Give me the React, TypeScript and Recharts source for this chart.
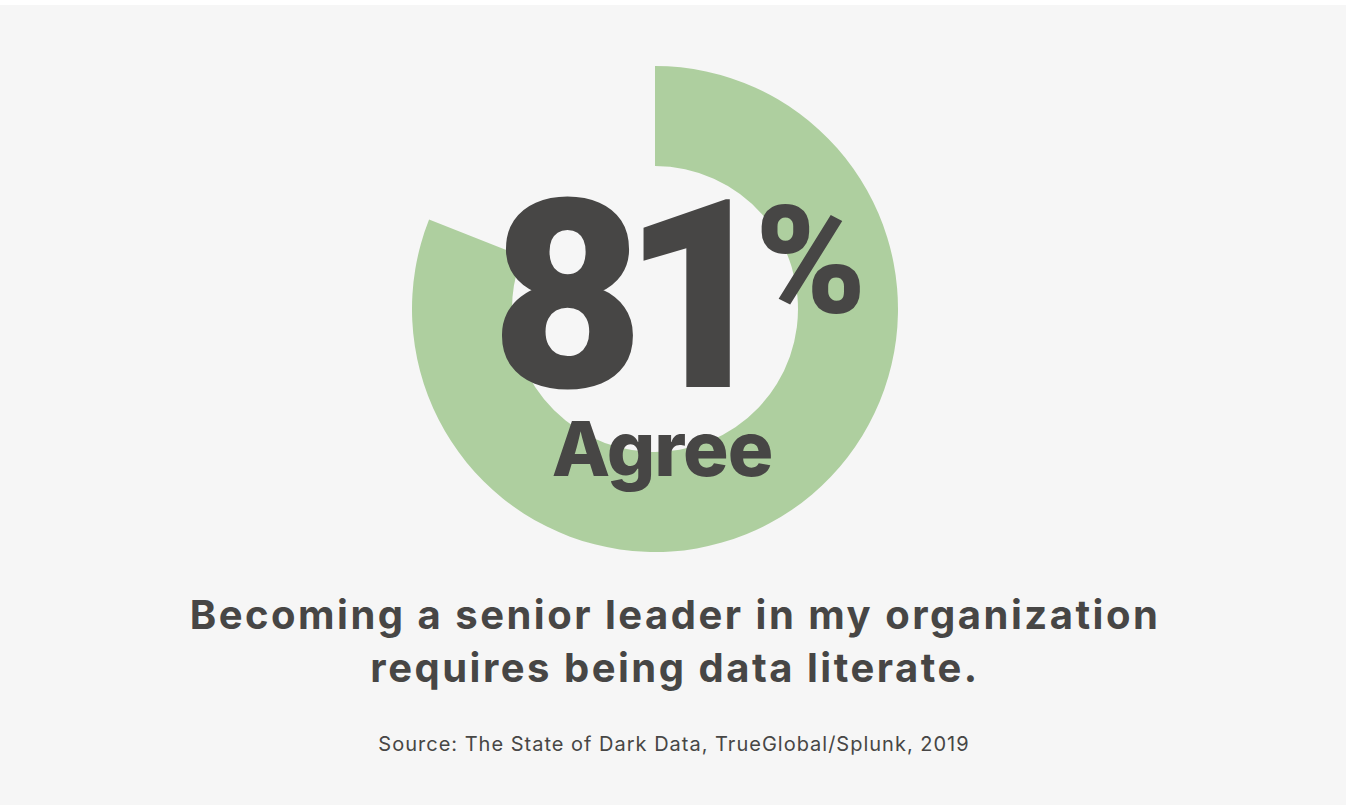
import { PieChart, Pie, Cell } from 'recharts'

const segments = ['Agree', 'Other']
const shares = [81, 19]
const headlineDigits = ['8', '1']
const headlineUnit = '%'
const caption = 'Agree'
const titleLines = [
   'Becoming a senior leader in my organization',
   'requires being data literate.',
]
const source = 'Source: The State of Dark Data, TrueGlobal/Splunk, 2019'

const GREEN = '#aecf9f'
const INK = '#474645'
const BG = '#f6f6f6'

const W = 1346
const H = 805
const FONT = 'Inter, "Open Sans", sans-serif'
const NUM_FONT = 'Roboto, Inter, sans-serif'

export default function App() {
   const data = segments.map((name, i) => ({ name, value: shares[i] }))

   return (
      <div
         style={{
            position: 'absolute',
            left: 0,
            top: 0,
            width: W,
            height: H,
            background: '#ffffff',
            overflow: 'hidden',
         }}
      >
         <div
            style={{
               position: 'absolute',
               left: 0,
               top: 5,
               width: W,
               height: H - 5,
               background: BG,
            }}
         />
         <div style={{ position: 'absolute', left: 0, top: 0 }}>
            <PieChart width={W} height={H} margin={{ top: 0, right: 0, bottom: 0, left: 0 }}>
               <Pie
                  data={data}
                  dataKey="value"
                  nameKey="name"
                  cx={655}
                  cy={309}
                  innerRadius={143}
                  outerRadius={243}
                  startAngle={90}
                  endAngle={-270}
                  stroke="none"
                  isAnimationActive={false}
               >
                  {data.map((d, i) => (
                     <Cell key={d.name} fill={i === 0 ? GREEN : 'transparent'} />
                  ))}
               </Pie>
            </PieChart>
         </div>

         <svg
            width={W}
            height={H}
            style={{ position: 'absolute', left: 0, top: 0, pointerEvents: 'none' }}
         >
            <text
               x={491}
               y={387}
               textAnchor="start"
               fontFamily={NUM_FONT}
               fontWeight={900}
               fontSize={264}
               fill={INK}
            >
               <tspan>{headlineDigits[0]}</tspan>
               <tspan dx={-22}>{headlineDigits[1]}</tspan>
            </text>
            <text
               x={755}
               y={313}
               textAnchor="start"
               fontFamily={NUM_FONT}
               fontWeight={900}
               fontSize={150}
               fill={INK}
            >
               {headlineUnit}
            </text>
            <text
               x={662}
               y={476}
               textAnchor="middle"
               fontFamily={FONT}
               fontWeight={800}
               fontSize={76}
               fill={INK}
               letterSpacing={-1}
            >
               {caption}
            </text>
            {titleLines.map((line, i) => (
               <text
                  key={line}
                  x={675}
                  y={629 + i * 53}
                  textAnchor="middle"
                  fontFamily={FONT}
                  fontWeight={700}
                  fontSize={40}
                  letterSpacing={2.5}
                  fill={INK}
               >
                  {line}
               </text>
            ))}
            <text
               x={674}
               y={751}
               textAnchor="middle"
               fontFamily={FONT}
               fontWeight={400}
               fontSize={20}
               letterSpacing={1}
               fill={INK}
            >
               {source}
            </text>
         </svg>
      </div>
   )
}
